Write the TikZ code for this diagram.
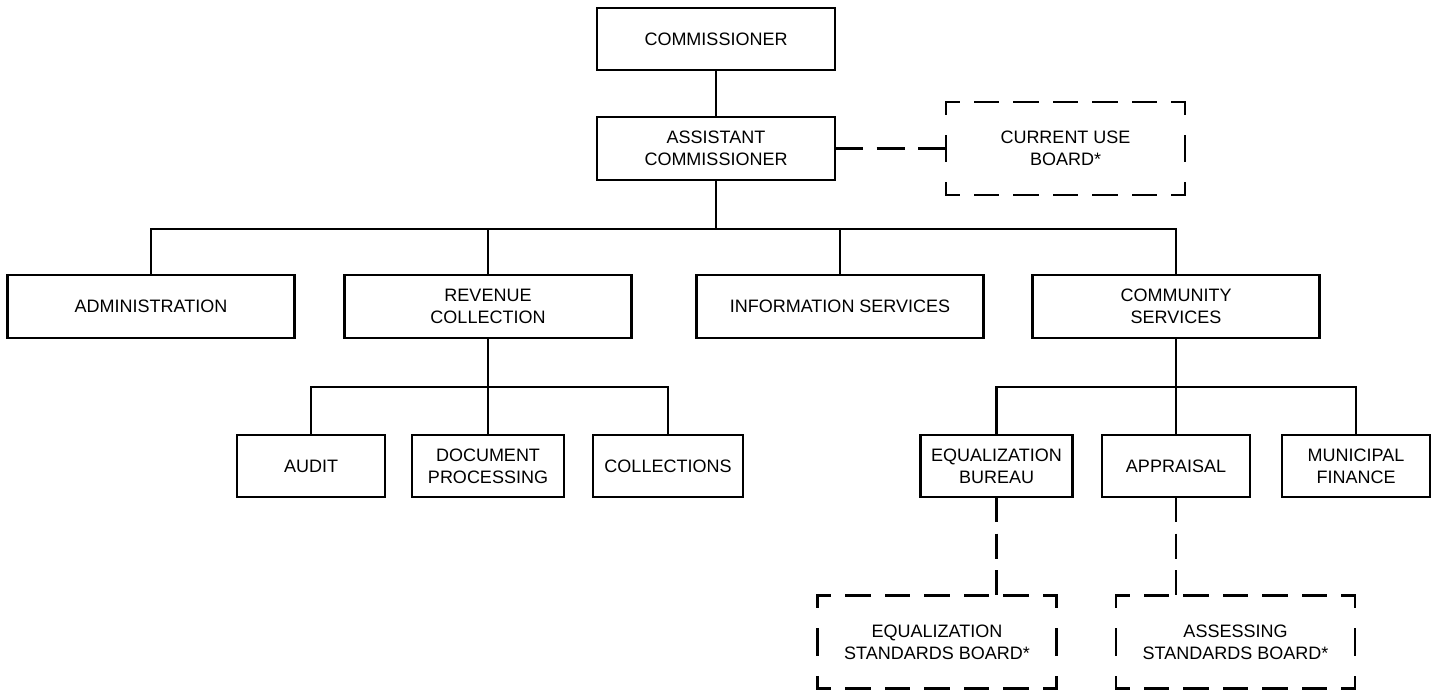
\documentclass[tikz,border=0pt]{standalone}
\usepackage{fontspec}
\setmainfont{Liberation Sans}
\begin{document}
\begin{tikzpicture}[x=1pt,y=-1pt,
  every node/.style={font=\fontsize{18}{22}\selectfont, align=center, inner sep=0pt, outer sep=0pt},
  unit/.style={draw, line width=2.6pt, minimum height=62pt},
  board/.style={minimum width=239pt, minimum height=93pt},
  link/.style={line width=2.4pt},
  dotlink/.style={line width=2.4pt, dash pattern=on 25pt off 11.5pt},
  hside/.style={line width=2.4pt, line cap=rect, dash pattern=on 23.5pt off 16pt, dash phase=10.75pt},
  vside/.style={line width=2.4pt, line cap=rect, dash pattern=on 25.5pt off 22pt, dash phase=13.75pt}]
\useasboundingbox (0,0) rectangle (1437,690);
% top of the chart
\node[unit, minimum width=238pt] (com) at (716,39) {COMMISSIONER};
\node[unit, minimum width=238pt, minimum height=63pt] (asc) at (716,148.5) {ASSISTANT\\COMMISSIONER};
\node[board] (cub) at (1065.5,148.5) {CURRENT USE\\BOARD*};
% divisions
\node[unit, minimum width=287pt, minimum height=63pt] (adm) at (151,306.5) {ADMINISTRATION};
\node[unit, minimum width=287pt, minimum height=63pt] (rev) at (488,306.5) {REVENUE\\COLLECTION};
\node[unit, minimum width=287pt, minimum height=63pt] (inf) at (840,306.5) {INFORMATION SERVICES};
\node[unit, minimum width=287pt, minimum height=63pt] (cms) at (1176,306.5) {COMMUNITY\\SERVICES};
% units
\node[unit, minimum width=148pt] (aud) at (311,466) {AUDIT};
\node[unit, minimum width=152pt] (doc) at (488,466) {DOCUMENT\\PROCESSING};
\node[unit, minimum width=150pt] (col) at (668,466) {COLLECTIONS};
\node[unit, minimum width=152pt] (eqb) at (996.5,466) {EQUALIZATION\\BUREAU};
\node[unit, minimum width=148pt] (app) at (1176,466) {APPRAISAL};
\node[unit, minimum width=148pt] (mun) at (1356,466) {MUNICIPAL\\FINANCE};
% boards
\node[board] (esb) at (937,642) {EQUALIZATION\\STANDARDS BOARD*};
\node[board] (asb) at (1235.5,642) {ASSESSING\\STANDARDS BOARD*};
% solid lines
\draw[link] (com.south) -- (asc.north);
\coordinate (b1) at (716,229);
\draw[link] (asc.south) -- (b1);
\foreach \n in {adm,rev,inf,cms} \draw[link] (b1) -| (\n.north);
\coordinate (b2) at (488,387);
\draw[link] (rev.south) -- (b2);
\foreach \n in {aud,doc,col} \draw[link] (b2) -| (\n.north);
\coordinate (b3) at (1176,387);
\draw[link] (cms.south) -- (b3);
\foreach \n in {eqb,app,mun} \draw[link] (b3) -| (\n.north);
% dashed lines
\draw[dotlink, dash pattern=on 28pt off 13.5pt] (asc.east) -- (cub.west);
\draw[dotlink] (eqb.south) -- (eqb.south |- esb.north);
\draw[dotlink] (app.south) -- (app.south |- asb.north);
\foreach \b in {cub,esb,asb} {
  \draw[hside] (\b.north west) -- (\b.north east);
  \draw[hside] (\b.south west) -- (\b.south east);
  \draw[vside] (\b.north west) -- (\b.south west);
  \draw[vside] (\b.north east) -- (\b.south east);
}
\end{tikzpicture}
\end{document}
